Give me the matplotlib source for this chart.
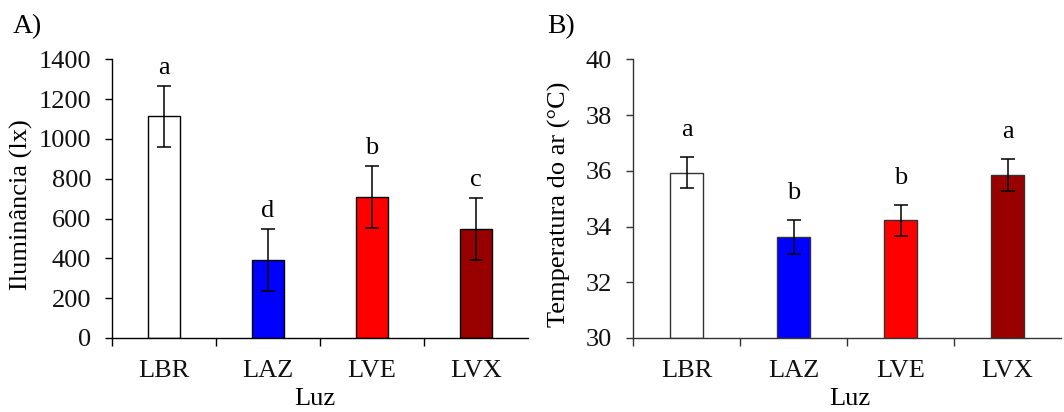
import matplotlib
matplotlib.use("Agg")
import matplotlib.pyplot as plt
import numpy as np

plt.rcParams['font.family'] = ['Liberation Serif', 'DejaVu Serif']

categories = ["LBR", "LAZ", "LVE", "LVX"]
colors = ["#FFFFFF", "#0000FF", "#FF0000", "#990000"]

lux_mean = [1114, 391, 707, 547]
lux_err = [153, 156, 155, 154]
lux_letters = ["a", "d", "b", "c"]

temp_mean = [35.93, 33.62, 34.22, 35.85]
temp_err = [0.56, 0.60, 0.56, 0.58]
temp_letters = ["a", "b", "b", "a"]

fig = plt.figure(figsize=(10.64, 4.12), dpi=100)
W, H = 1064, 412

def make_axes(x0, x1):
    return fig.add_axes([x0 / W, 1 - 338 / H, (x1 - x0) / W, (338 - 59.3) / H])

axA = make_axes(112, 528)
axB = make_axes(633, 1061)

FS = 19

def style(ax, mean, err, letters, ylim, yticks, ylabel, label_x, edge, letter_off, xlab_x):
    x = np.arange(len(categories))
    ax.bar(x, np.array(mean) - ylim[0], bottom=ylim[0], width=0.31, color=colors,
           edgecolor=edge, linewidth=1.0, zorder=2)
    ax.errorbar(x, mean, yerr=err, fmt='none', ecolor='black', elinewidth=1.1,
                capsize=5, capthick=1.1, zorder=3)
    for xi, m, e, t in zip(x, mean, err, letters):
        ax.annotate(t, (xi, m + e), xytext=(0, letter_off), textcoords='offset points',
                    ha='center', va='center', fontsize=FS)
    ax.set_xlim(-0.5, 3.5)
    ax.set_ylim(*ylim)
    ax.set_yticks(yticks)
    ax.set_yticklabels([str(v) for v in yticks])
    ax.set_xticks(np.arange(-0.5, 3.0, 1.0))
    ax.set_xticklabels([])
    ax.set_xticks(x, minor=True)
    ax.set_xticklabels(categories, minor=True)
    ax.tick_params(axis='x', which='major', direction='out', length=6, width=1, color=edge)
    ax.tick_params(axis='x', which='minor', length=0, pad=16, labelsize=FS)
    ax.tick_params(axis='y', direction='out', length=5, width=1, pad=10, labelsize=FS, color=edge)
    for s in ['top', 'right']:
        ax.spines[s].set_visible(False)
    for s in ['left', 'bottom']:
        ax.spines[s].set_color(edge)
        ax.spines[s].set_linewidth(1.0)
    ax.set_ylabel(ylabel, fontsize=FS)
    ax.yaxis.set_label_coords(label_x, 0.48)
    ax.set_xlabel("Luz", fontsize=FS)
    ax.xaxis.set_label_coords(xlab_x, -0.18)
    for t in ax.get_xticklabels(minor=True) + ax.get_yticklabels():
        t.set_color('#111111')

style(axA, lux_mean, lux_err, lux_letters, (0, 1400), list(range(0, 1401, 200)),
      "Iluminância (lx)", -0.19, 'black', 13, 0.488)
style(axB, temp_mean, temp_err, temp_letters, (30, 40), list(range(30, 41, 2)),
      "Temperatura do ar (°C)", -0.145, '#333333', 19.5, 0.507)

fig.text(13 / W, 1 - 27 / H, "A)", fontsize=20, va='center', ha='left')
fig.text(547 / W, 1 - 27 / H, "B)", fontsize=20, va='center', ha='left')

fig.savefig("out.png", dpi=100)
